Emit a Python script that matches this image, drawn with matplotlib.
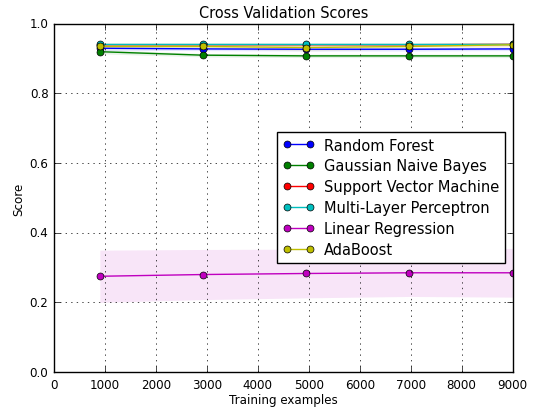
import numpy as np
import matplotlib
matplotlib.use('Agg')
import matplotlib.pyplot as plt

plt.style.use('classic')
plt.rcParams['font.size'] = 8.6

train_sizes = [900, 2925, 4950, 6975, 9000]

models = ['Random Forest', 'Gaussian Naive Bayes', 'Support Vector Machine',
          'Multi-Layer Perceptron', 'Linear Regression', 'AdaBoost']
colors = ['b', 'g', 'r', 'c', 'm', 'y']

rf_mean = [0.930, 0.928, 0.927, 0.927, 0.928]
rf_std = [0.006, 0.005, 0.005, 0.005, 0.005]
gnb_mean = [0.920, 0.910, 0.908, 0.908, 0.908]
gnb_std = [0.006, 0.005, 0.005, 0.005, 0.005]
svm_mean = [0.940, 0.940, 0.940, 0.940, 0.941]
svm_std = [0.005, 0.005, 0.005, 0.005, 0.005]
mlp_mean = [0.941, 0.941, 0.941, 0.941, 0.941]
mlp_std = [0.005, 0.005, 0.005, 0.005, 0.005]
lr_mean = [0.275, 0.280, 0.283, 0.285, 0.285]
lr_std = [0.075, 0.072, 0.070, 0.068, 0.070]
ada_mean = [0.935, 0.935, 0.932, 0.935, 0.940]
ada_std = [0.007, 0.006, 0.010, 0.008, 0.006]

means = [rf_mean, gnb_mean, svm_mean, mlp_mean, lr_mean, ada_mean]
stds = [rf_std, gnb_std, svm_std, mlp_std, lr_std, ada_std]

fig = plt.figure(figsize=(5.34, 4.14), dpi=100, facecolor='white')
ax = fig.add_axes([0.101, 0.099, 0.859, 0.841])

for name, c, m, s in zip(models, colors, means, stds):
    m = np.array(m)
    s = np.array(s)
    ax.fill_between(train_sizes, m - s, m + s, alpha=0.1, color=c, linewidth=0)
    ax.plot(train_sizes, m, 'o-', color=c, label=name, markersize=5)

ax.set_xlim(0, 9000)
ax.set_ylim(0.0, 1.0)
ax.set_title('Cross Validation Scores', fontsize=10.45)
ax.set_xlabel('Training examples', labelpad=2)
ax.set_ylabel('Score', labelpad=3)
ax.grid(True)
ax.legend(loc='center right', bbox_to_anchor=(0.984, 0.502), borderaxespad=0,
          fontsize=10.55, numpoints=2, handlelength=2.2, labelspacing=0.4,
          handletextpad=0.65)

plt.savefig('out.png', dpi=100, facecolor='white')
